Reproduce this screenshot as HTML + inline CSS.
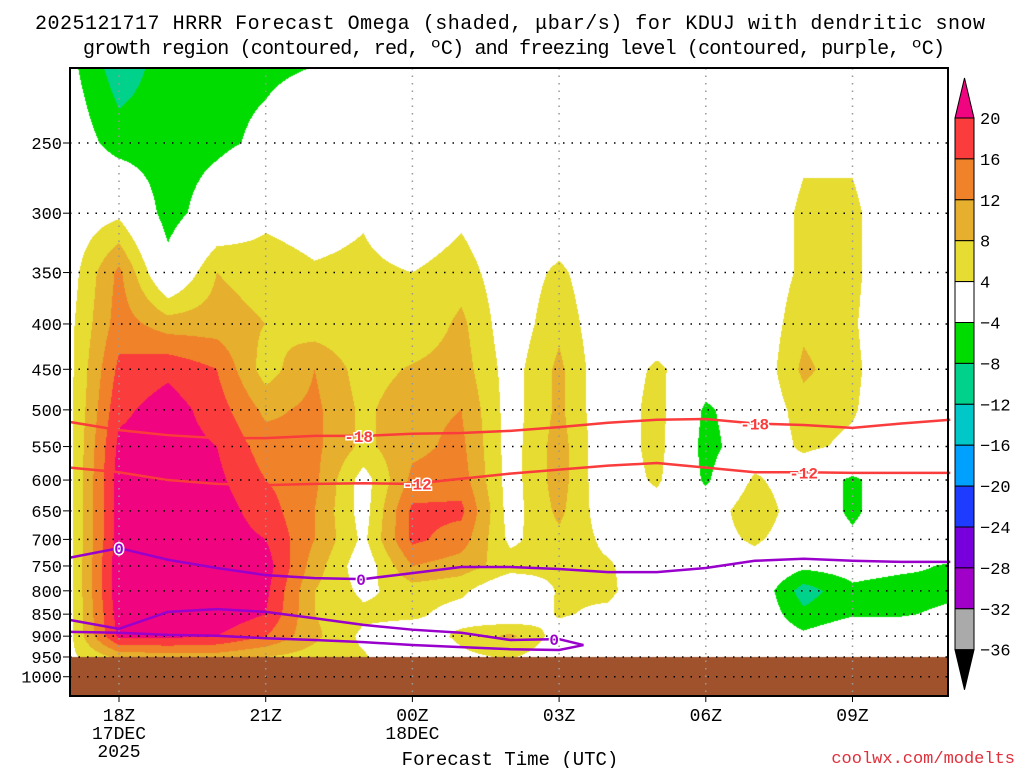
<!DOCTYPE html>
<html><head><meta charset="utf-8">
<style>
body{margin:0;background:#fff;width:1024px;height:768px;overflow:hidden;font-family:"Liberation Mono","DejaVu Sans Mono",monospace;}
#wrap{position:relative;width:1024px;height:768px;}
canvas{position:absolute;left:0;top:0;}
svg{position:absolute;left:0;top:0;font-family:"Liberation Mono","DejaVu Sans Mono",monospace;}
</style></head>
<body>
<div id="wrap">
<canvas id="cv" width="1024" height="768"></canvas>
<svg id="sv" width="1024" height="768">
<text x="510" y="29" text-anchor="middle" font-size="20" textLength="950" fill="#000">2025121717 HRRR Forecast Omega (shaded, μbar/s) for KDUJ with dendritic snow</text>
<text x="514" y="54" text-anchor="middle" font-size="20" textLength="862" fill="#000">growth region (contoured, red, ºC) and freezing level (contoured, purple, ºC)</text>
<text x="510" y="765" text-anchor="middle" font-size="19" fill="#000">Forecast Time (UTC)</text>
<text x="1015" y="763" text-anchor="end" font-size="17" fill="#e0303c">coolwx.com/modelts</text>
</svg>
</div>
<script>
// ---- data ----
const hours = [0,1,2,3,4,5,6,7,8,9,10,11,12,13,14,15,16,17,18]; // offset from 17Z
const levels = [200,250,300,350,400,450,500,550,600,650,700,750,800,850,900,950];
const omega200 = [-3,-11,-6,-5,-5,-4.5,0,0,0,0,0,0,0,0,0,0,0,0,0];
const omega250 = [-1,-6,-6,-5,-3,0,0,0,0,0,0,0,0,0,0,3,3,0,0];
const omega300 = [1,3,-6,-1,3,2,3.5,0,3,0,0,0,0,0,0,5,5,0,0];
const omega350 = [2,13,-2,8,6,4.5,5,4,6,1,5,0,0,0,0,5,5,0,0];
const omega400 = [3,14,10,10,8,5.5,5,4.5,9,1,7,0,0,0,0,7,4.5,0,0];
const omega450 = [3,17,19,16,6,12,6,8.5,10,2,9,0,5,0,0,9,5,0,0];
const omega500 = [3,19,22,18,11,13,7,11,12,2,9,0,6,-5,0,6,4.5,0,0];
const omega550 = [3,21,22,20,14,13,7,11,13,2,10,0,6,-6,0,5,3,0,0];
const omega600 = [3,22,23,21,16,13,2,13,14,2,10,0,5,-5,5,0,-5,0,0];
const omega650 = [3,22,24,22,18,12,2,17,17,2,9,1,1,0,8,0,-5,0,0];
const omega700 = [3,22,24,22,20,12,3,17,14,3,7,3,1,1,5,0,-3,0,0];
const omega750 = [3,23,24,23,22,10,1,12,10,6,5,4.5,1,0,1,-3,-2,-3,-4.5];
const omega800 = [3,23,24,23,21,8,3,6,5,-1,4.5,5,0,0,0,-10,-5,-6,-5];
const omega850 = [3,22,23,23,20,8,5,5,2,0,4.5,3,0,0,0,-7,-4.5,-4.5,-3];
const omega900 = [3,21,21,20,16,9,3,1,5,9,2,0,0,0,0,-3,0,0,0];
const omega950 = [3,9,10,10,8,6,4.5,0,3,4.5,1,0,0,0,0,0,0,0,0];
const omegaRows = [omega200,omega250,omega300,omega350,omega400,omega450,omega500,omega550,omega600,omega650,omega700,omega750,omega800,omega850,omega900,omega950];
const tMinus18 = [516,527,534,538,538,535,535,532,531,528,523,517,513,512,518,520,524,518,513];
const tMinus12 = [581,588,600,606,608,606,605,606,598,590,584,578,574,581,588,588,589,589,589];
const tZeroUpper = [734,716,738,754,768,774,776,764,752,752,756,762,762,754,740,736,740,742,742];
const loopHoursA = [0,1,2,3,4,5,6,7,8,9,10,10.5];
const tZeroLoopA = [863,883,845,839,845,859,874,885,892,909,907,921];
const loopHoursB = [0,1,2,3,4,5,6,7,8,9,10,10.5];
const tZeroLoopB = [890,892,897,899,905,909,914,921,926,931,933,921];
const yTicks = [250,300,350,400,450,500,550,600,650,700,750,800,850,900,950,1000];
const xTickHours = [1,4,7,10,13,16];
const xTickLabels = ["18Z","21Z","00Z","03Z","06Z","09Z"];
const xTickSub = ["17DEC","","18DEC","","",""];
const cbLevels = [20,16,12,8,4,-4,-8,-12,-16,-20,-24,-28,-32,-36];
const cbColors = ["#fa3c3c","#f0822a","#e6af2d","#e6dc32","#ffffff","#00dc00","#00d28c","#00c8c8","#00a0ff","#1e3cff","#7800dc","#a000c8","#aaaaaa"];

// ---- axes ----
const L=70,R=948,T=68,B=696;
const xS=h=>70.1+h*48.9;
const yS=p=>143+(Math.log(p)-Math.log(250))*385;
const lnpOfY=y=>Math.log(250)+(y-143)/385;
function colorOf(v){
  if(v>=20)return "#f0047f";
  if(v>=16)return "#fa3c3c";
  if(v>=12)return "#f0822a";
  if(v>=8)return "#e6af2d";
  if(v>=4)return "#e6dc32";
  if(v>-4)return null;
  if(v>-8)return "#00dc00";
  if(v>-12)return "#00d28c";
  if(v>-16)return "#00c8c8";
  if(v>-20)return "#00a0ff";
  if(v>-24)return "#1e3cff";
  if(v>-28)return "#7800dc";
  if(v>-32)return "#a000c8";
  if(v>-36)return "#aaaaaa";
  return "#000";
}
const lnLev=levels.map(Math.log);
function val(x,y){
  let h=(x-70.1)/48.9; h=Math.max(0,Math.min(hours.length-1.0001,h));
  const i=Math.floor(h),fx=h-i;
  const lp=lnpOfY(y);
  let j=0; while(j<lnLev.length-2&&lp>lnLev[j+1])j++;
  let fy=(lp-lnLev[j])/(lnLev[j+1]-lnLev[j]); fy=Math.max(0,Math.min(1,fy));
  const a=omegaRows[j],b=omegaRows[j+1];
  const top=a[i]*(1-fx)+a[i+1]*fx, bot=b[i]*(1-fx)+b[i+1]*fx;
  return top*(1-fy)+bot*fy;
}
const cv=document.getElementById('cv'),ctx=cv.getContext('2d');
const g=yS(950);
for(let y=T;y<g;y++){
  let x=L,cur=null,start=L;
  for(;x<=R;x++){
    const c=x<R?colorOf(val(x+0.5,y+0.5)):"END";
    if(c!==cur){ if(cur&&cur!=="END"){ctx.fillStyle=cur;ctx.fillRect(start,y,x-start,1);} cur=c;start=x;}
  }
}
ctx.fillStyle="#a0522d";ctx.fillRect(L,Math.round(g),R-L,B-Math.round(g));

// ---- svg overlay ----
const sv=document.getElementById('sv');const NS="http://www.w3.org/2000/svg";
function mk(t,a){const e=document.createElementNS(NS,t);for(const k in a)e.setAttribute(k,a[k]);sv.appendChild(e);return e;}
yTicks.forEach(p=>{
  const y=yS(p);
  const gl=mk('line',{x1:L,x2:R,y1:y,y2:y,stroke:'#000','stroke-width':1.5,'stroke-dasharray':'1.5,7'});
  
  
  const tk=mk('line',{x1:L-7,x2:L,y1:y,y2:y,stroke:'#000','stroke-width':1});
  
  
  const t=mk('text',{x:62,y:y+6,'text-anchor':'end','font-size':17,fill:'#000'});t.textContent=p;
  
  
});
xTickHours.forEach((h,k)=>{
  const x=xS(h);
  const gl=mk('line',{x1:x,x2:x,y1:T,y2:B,stroke:'#999','stroke-width':1.5,'stroke-dasharray':'1.5,6'});
  
  
  const tk=mk('line',{x1:x,x2:x,y1:B,y2:B+6,stroke:'#000'});
  
  
  const t=mk('text',{x:x,y:721,'text-anchor':'middle','font-size':18,fill:'#000'});t.textContent=xTickLabels[k];
  
  
  if(xTickSub[k]){const s=mk('text',{x:x,y:739,'text-anchor':'middle','font-size':18,fill:'#000'});s.textContent=xTickSub[k];
  
  }
  if(k===0){const s=mk('text',{x:x,y:757,'text-anchor':'middle','font-size':18,fill:'#000'});s.textContent="2025";
  
  }
});
function line(hs,ps,color,name){
  const pts=hs.map((h,i)=>xS(h)+','+yS(ps[i])).join(' ');
  const e=mk('polyline',{points:pts,fill:'none',stroke:color,'stroke-width':2.5});
  
  
}
function label(h,ps,txt,color,name){
  const i=Math.floor(h),f=h-i;const p=ps[i]*(1-f)+ps[Math.min(i+1,ps.length-1)]*f;
  const x=xS(h),y=yS(p);
  const t=mk('text',{x:x,y:y+6,'text-anchor':'middle','font-size':16,'font-weight':'bold',fill:color,stroke:'#fff','stroke-width':3,'paint-order':'stroke'});t.textContent=txt;
  
  
}
line(hours,tMinus18,'#fa3c3c','contour-minus18');
line(hours,tMinus12,'#fa3c3c','contour-minus12');
line(hours,tZeroUpper,'#9900cc','freezing-level-upper');
line(loopHoursA,tZeroLoopA,'#9900cc','freezing-level-loop-top');
line(loopHoursB,tZeroLoopB,'#9900cc','freezing-level-loop-bottom');
label(5.9,tMinus18,'-18','#fa3c3c','label-minus18');
label(14,tMinus18,'-18','#fa3c3c','label-minus18');
label(7.1,tMinus12,'-12','#fa3c3c','label-minus12');
label(15,tMinus12,'-12','#fa3c3c','label-minus12');
label(1,tZeroUpper,'0','#9900cc','label-zero');
label(5.95,tZeroUpper,'0','#9900cc','label-zero');
label(9.9,tZeroLoopA,'0','#9900cc','label-zero');
const fr=mk('rect',{x:L,y:T,width:R-L,height:B-T,fill:'none',stroke:'#000','stroke-width':2});


// colorbar
const cbX=955,cbW=19,cbTop=118,seg=40.9;
const tri=mk('polygon',{points:`${cbX},${cbTop} ${cbX+cbW/2},78 ${cbX+cbW},${cbTop}`,fill:'#f0047f',stroke:'#000'});


cbColors.forEach((c,i)=>{
  const r=mk('rect',{x:cbX,y:cbTop+i*seg,width:cbW,height:seg,fill:c,stroke:'#000','stroke-width':1});
  
  
});
const cbBot=cbTop+cbColors.length*seg;
const tri2=mk('polygon',{points:`${cbX},${cbBot} ${cbX+cbW/2},${cbBot+40} ${cbX+cbW},${cbBot}`,fill:'#000',stroke:'#000'});


cbLevels.forEach((v,i)=>{
  const t=mk('text',{x:980,y:cbTop+i*seg+6,'font-size':17,fill:'#000'});
  t.textContent=v<0?'\u2212'+(-v):String(v);
  
  
});
</script>
</body></html>
